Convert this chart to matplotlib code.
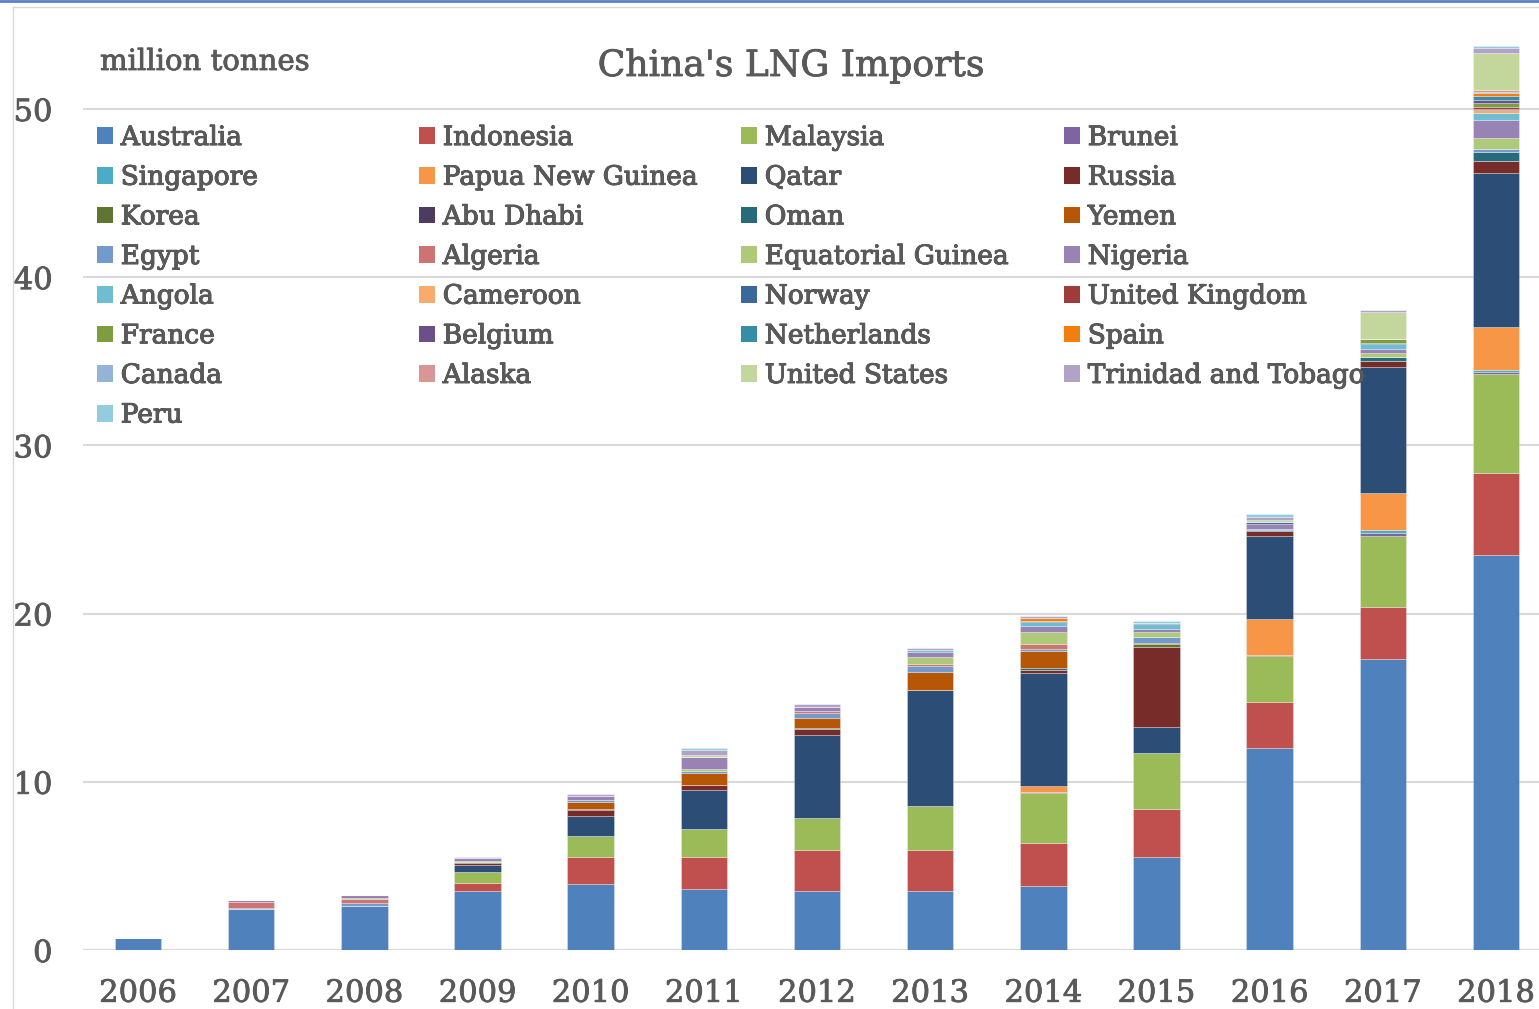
import matplotlib
matplotlib.use('Agg')
import matplotlib.pyplot as plt
import matplotlib.patheffects as pe
from matplotlib.patches import Patch
from matplotlib.lines import Line2D

years = ['2006', '2007', '2008', '2009', '2010', '2011', '2012',
         '2013', '2014', '2015', '2016', '2017', '2018']

countries = ['Australia', 'Indonesia', 'Malaysia', 'Brunei', 'Singapore',
             'Papua New Guinea', 'Qatar', 'Russia', 'Korea', 'Abu Dhabi',
             'Oman', 'Yemen', 'Egypt', 'Algeria', 'Equatorial Guinea',
             'Nigeria', 'Angola', 'Cameroon', 'Norway', 'United Kingdom',
             'France', 'Belgium', 'Netherlands', 'Spain', 'Canada', 'Alaska',
             'United States', 'Trinidad and Tobago', 'Peru']

colors = ['#4F81BD', '#C0504D', '#9BBB59', '#8064A2', '#4BACC6', '#F79646',
          '#2C4D75', '#772C2A', '#5F7530', '#4D3B62', '#276A7C', '#B65708',
          '#729ACA', '#CD7371', '#AFC97A', '#9983B5', '#6FBDD1', '#F9AB6B',
          '#3A679C', '#9F3B38', '#7E9C40', '#6A4F8B', '#358EA6', '#F47D10',
          '#95B3D7', '#D99694', '#C3D69B', '#B3A2C7', '#93CDDD']

# million tonnes, 2006..2018
australia   = [0.70, 2.46, 2.62, 3.51, 3.90, 3.61, 3.50, 3.50, 3.80, 5.53, 12.00, 17.30, 23.48]
indonesia   = [0, 0, 0, 0.46, 1.64, 1.94, 2.45, 2.45, 2.54, 2.85, 2.74, 3.09, 4.88]
malaysia    = [0, 0, 0, 0.65, 1.25, 1.63, 1.88, 2.63, 2.98, 3.31, 2.74, 4.24, 5.87]
brunei      = [0, 0, 0, 0, 0, 0, 0, 0, 0.10, 0, 0.05, 0.16, 0.16]
singapore   = [0, 0, 0, 0, 0, 0, 0, 0, 0, 0, 0, 0.18, 0.10]
png         = [0, 0, 0, 0, 0, 0, 0, 0, 0.30, 0, 2.14, 2.18, 2.54]
qatar       = [0, 0, 0, 0.43, 1.19, 2.34, 4.95, 6.88, 6.74, 1.58, 4.93, 7.53, 9.19]
russia      = [0, 0, 0, 0.14, 0.36, 0.26, 0.36, 0, 0.20, 4.76, 0.28, 0.34, 0.71]
korea       = [0, 0, 0, 0.05, 0, 0, 0, 0, 0, 0.14, 0, 0, 0]
abu_dhabi   = [0, 0, 0, 0, 0.05, 0, 0, 0, 0, 0, 0, 0, 0]
oman        = [0, 0, 0, 0, 0, 0, 0.08, 0, 0.10, 0.05, 0.10, 0.26, 0.53]
yemen       = [0, 0, 0, 0, 0.42, 0.74, 0.57, 1.09, 0.99, 0.06, 0, 0, 0]
egypt       = [0, 0.05, 0.20, 0, 0.10, 0.14, 0.28, 0.36, 0.14, 0.30, 0.05, 0, 0.16]
algeria     = [0, 0.36, 0.20, 0, 0, 0, 0.12, 0.12, 0.28, 0, 0, 0, 0]
eq_guinea   = [0, 0, 0.10, 0.08, 0, 0.12, 0, 0.38, 0.75, 0.32, 0, 0.20, 0.63]
nigeria     = [0, 0.08, 0.16, 0.12, 0.22, 0.71, 0.24, 0.33, 0.36, 0.18, 0.30, 0.26, 1.07]
angola      = [0, 0, 0, 0, 0, 0, 0, 0.10, 0.20, 0.30, 0, 0.26, 0.44]
cameroon    = [0, 0, 0, 0, 0, 0, 0, 0, 0, 0, 0, 0, 0.16]
norway      = [0, 0, 0, 0, 0, 0, 0, 0, 0.06, 0, 0.10, 0.08, 0.10]
uk          = [0, 0, 0, 0, 0, 0, 0, 0, 0, 0, 0, 0, 0.10]
france      = [0, 0, 0, 0, 0, 0, 0, 0, 0, 0, 0, 0.26, 0.24]
belgium     = [0, 0, 0, 0, 0, 0, 0, 0, 0, 0.08, 0, 0, 0.20]
netherlands = [0, 0, 0, 0, 0, 0, 0, 0, 0, 0, 0, 0, 0.20]
spain       = [0, 0, 0, 0, 0, 0, 0, 0, 0.21, 0, 0, 0, 0.16]
canada      = [0, 0, 0, 0, 0, 0, 0, 0, 0, 0, 0, 0, 0.10]
alaska      = [0, 0, 0, 0, 0, 0, 0, 0, 0, 0, 0, 0, 0.10]
usa         = [0, 0, 0, 0, 0, 0.10, 0, 0, 0, 0, 0.14, 1.59, 2.18]
trinidad    = [0, 0, 0, 0.10, 0.12, 0.30, 0.20, 0.12, 0.10, 0, 0.20, 0.10, 0.32]
peru        = [0, 0, 0, 0, 0, 0.14, 0, 0, 0, 0.12, 0.14, 0, 0.14]

series = [australia, indonesia, malaysia, brunei, singapore, png, qatar,
          russia, korea, abu_dhabi, oman, yemen, egypt, algeria, eq_guinea,
          nigeria, angola, cameroon, norway, uk, france, belgium, netherlands,
          spain, canada, alaska, usa, trinidad, peru]

TXT = '#595959'
GRID = '#D9D9D9'
FONT = 'DejaVu Serif'
# slightly heavier strokes, closer to the original's font
HEAVY = [pe.withStroke(linewidth=0.6, foreground=TXT)]


def main():
    plt.rcParams['font.family'] = FONT
    fig = plt.figure(figsize=(15.39, 10.09), dpi=100)
    W, H = 1539.0, 1009.0
    ax = fig.add_axes([83 / W, 59 / H, 1456 / W, 942 / H])

    x = list(range(len(years)))
    bottom = [0.0] * len(years)
    for name, vals, col in zip(countries, series, colors):
        ax.bar(x, vals, width=0.41, bottom=bottom, color=col,
               edgecolor=(1, 1, 1, 0.35), linewidth=0.6, zorder=3)
        bottom = [b + v for b, v in zip(bottom, vals)]

    ax.set_xlim(-0.486, 12.38)
    ax.set_ylim(0, 56)
    ax.set_yticks([0, 10, 20, 30, 40, 50])
    ax.set_xticks(x)
    ax.set_xticklabels(years)
    ax.grid(axis='y', color=GRID, linewidth=1.5, zorder=0)
    for s in ax.spines.values():
        s.set_visible(False)
    ax.axhline(0, color=GRID, linewidth=1.5, zorder=1)
    ax.tick_params(axis='y', length=0, pad=22, labelsize=22, labelcolor=TXT)
    ax.tick_params(axis='x', length=0, pad=20, labelsize=22, labelcolor=TXT)
    for t in ax.get_xticklabels() + ax.get_yticklabels():
        t.set_path_effects(HEAVY)

    fig.text(791 / W, 1 - 66 / H, "China's LNG Imports", ha='center',
             va='center', fontsize=26, color=TXT, path_effects=HEAVY)
    fig.text(100 / W, 1 - 62 / H, 'million tonnes', ha='left', va='center',
             fontsize=21, color=TXT, path_effects=HEAVY)

    # legend, 4 columns filled row by row
    col_x = [97, 419, 741, 1064]
    for c in range(4):
        handles = [Patch(facecolor=colors[i]) for i in range(c, len(countries), 4)]
        labels = [countries[i] for i in range(c, len(countries), 4)]
        leg = fig.legend(handles, labels, loc='upper left',
                         bbox_to_anchor=(col_x[c] / W, 1 - 125 / H),
                         frameon=False, fontsize=19, labelcolor=TXT,
                         handlelength=0.6, handleheight=0.6,
                         handletextpad=0.3, labelspacing=0.555,
                         borderpad=0, borderaxespad=0)
        for t in leg.get_texts():
            t.set_path_effects(HEAVY)
        fig.add_artist(leg)

    # chart frame bits
    fig.add_artist(Line2D([13 / W, 13 / W], [0, 1 - 7 / H], color=GRID,
                          linewidth=1, transform=fig.transFigure))
    fig.add_artist(Line2D([13 / W, 1], [1 - 7 / H, 1 - 7 / H], color=GRID,
                          linewidth=1, transform=fig.transFigure))
    fig.add_artist(Line2D([0, 1], [1 - 1 / H, 1 - 1 / H], color='#5B7FC6',
                          linewidth=2, transform=fig.transFigure))

    fig.savefig('out.png', dpi=100)


if __name__ == "__main__":
    main()
